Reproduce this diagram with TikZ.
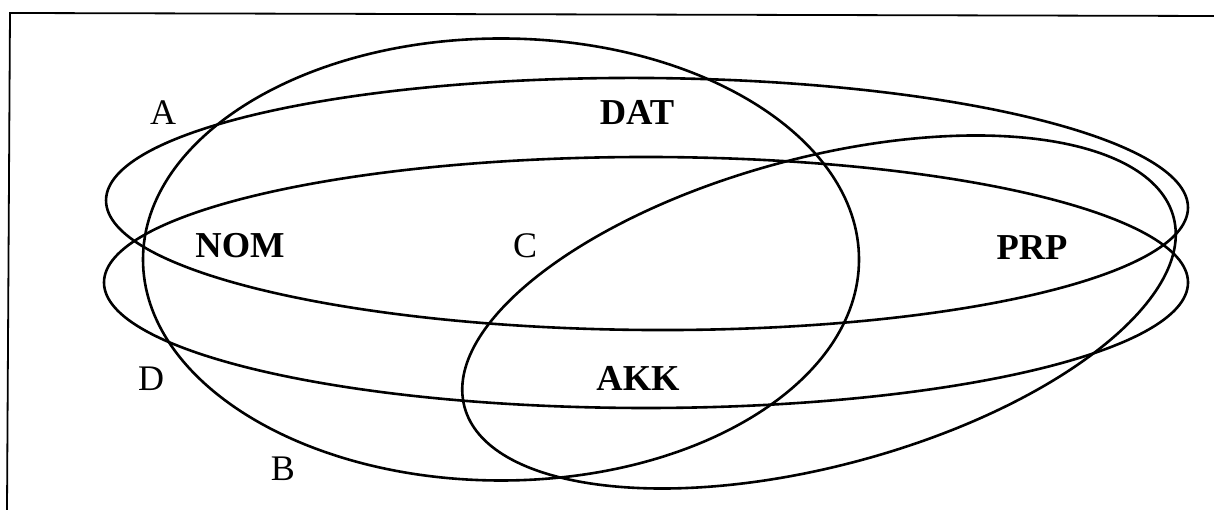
\documentclass[tikz,border=0pt]{standalone}
\usepackage{fontspec}
\setmainfont{Liberation Serif}
\begin{document}
\begin{tikzpicture}[x=1pt,y=1pt,
  setline/.style={line width=2.6pt},
  frameline/.style={line width=1.8pt},
  plainlbl/.style={font=\fontsize{36}{40}\selectfont, anchor=base, inner sep=0pt},
  boldlbl/.style={font=\fontsize{36.5}{40}\selectfont\bfseries, anchor=base, inner sep=0pt}]
\useasboundingbox (0,0) rectangle (1214,510);
% frame (left and top edges)
\coordinate (fb) at (7,0);
\coordinate (fc) at (10,497);
\coordinate (fr) at (1214,494);
\draw[frameline] (fb) -- (fc) -- (fr);
% sets
\draw[setline] (647,306) ellipse [x radius=541pt, y radius=126pt, rotate=-0.4];
\draw[setline] (646,227.5) ellipse [x radius=542pt, y radius=125.5pt];
\draw[setline] (501,250.5) ellipse [x radius=358pt, y radius=221pt];
\draw[setline] (819,198) ellipse [x radius=367pt, y radius=154pt, rotate=15];
% labels
\node[plainlbl] (la) at (163,385.5) {A};
\node[plainlbl] (ld) at (151,119.5) {D};
\node[plainlbl] (lb) at (283,29.5) {B};
\node[plainlbl] (lc) at (525,252.5) {C};
\node[boldlbl] (dat) at (637,385.5) {DAT};
\node[boldlbl] (nom) at (240,252.5) {NOM};
\node[boldlbl] (akk) at (638,119.5) {AKK};
\node[boldlbl] (prp) at (1032,250.5) {PRP};
\end{tikzpicture}
\end{document}
